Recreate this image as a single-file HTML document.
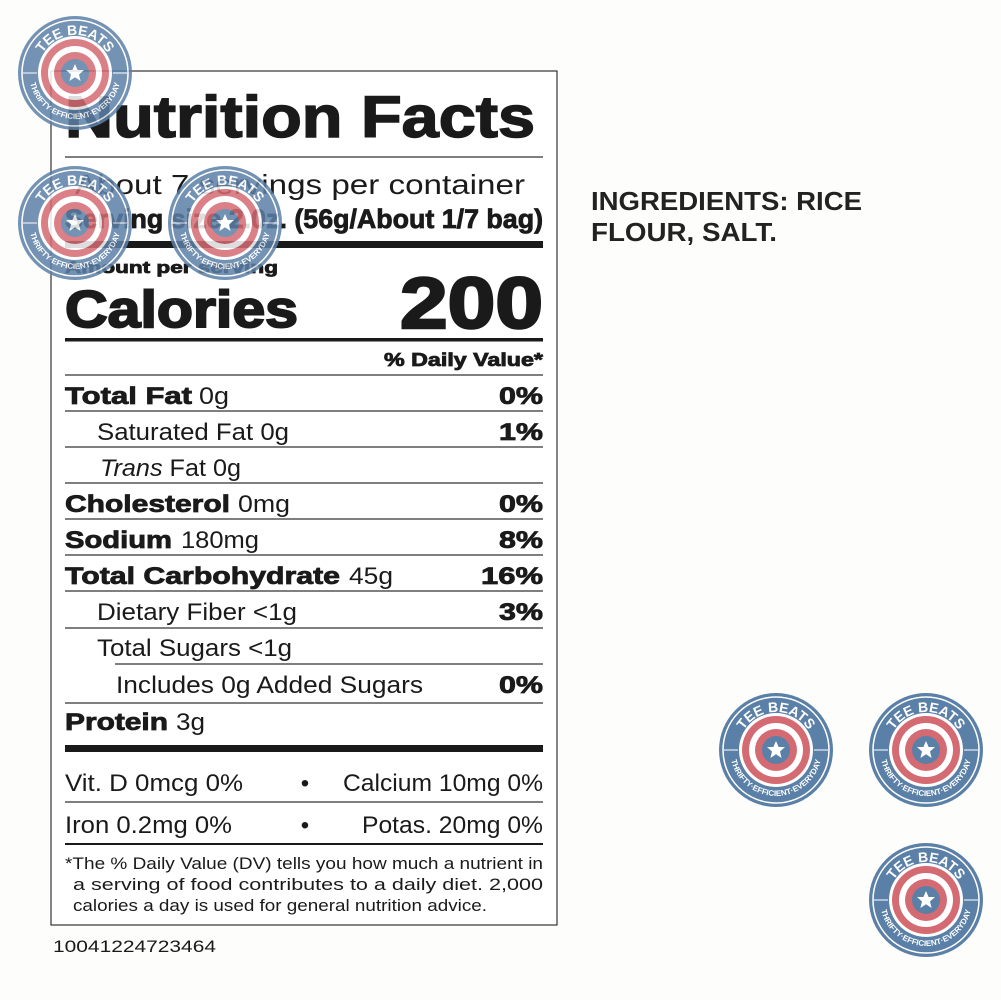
<!DOCTYPE html>
<html><head><meta charset="utf-8"><style>
html,body{margin:0;padding:0;background:#fdfdfb;}
svg{display:block;}
text{font-family:"Liberation Sans",Arial,sans-serif;fill:#1a1a1a;}
.b{font-weight:bold;stroke:#1a1a1a;stroke-width:0.8;}
</style></head><body>
<svg width="1001" height="1000" viewBox="0 0 1001 1000" xmlns="http://www.w3.org/2000/svg">
<defs>
<path id="arcTop" d="M -38,0 A 38,38 0 0 1 38,0"/>
<path id="arcBot" d="M -46,0 A 46,46 0 0 0 46,0"/>
<g id="logo">
<circle r="57" fill="#5b80a8"/>
<circle r="53" fill="none" stroke="#fff" stroke-width="1.5"/>
<circle r="37" fill="#fff"/>
<circle r="34" fill="#d46a72"/>
<circle r="27" fill="#fff"/>
<circle r="21" fill="#d46a72"/>
<circle r="14" fill="#5b80a8"/>
<polygon points="0,-9 2.6,-3 9,-3 4,1.5 5.6,8 0,4.2 -5.6,8 -4,1.5 -9,-3 -2.6,-3" fill="#fff"/>
<text font-size="14" font-weight="bold" style="fill:#fff"><textPath href="#arcTop" startOffset="50%" text-anchor="middle">TEE BEATS</textPath></text>
<text font-size="8" font-weight="bold" style="fill:#fff"><textPath href="#arcBot" startOffset="50%" text-anchor="middle">THRIFTY·EFFICIENT·EVERYDAY</textPath></text>
<line x1="-52" y1="0" x2="-38" y2="0" stroke="#fff" stroke-width="1"/>
<line x1="38" y1="0" x2="52" y2="0" stroke="#fff" stroke-width="1"/>
</g>
</defs>
<rect x="51" y="71" width="506" height="854" fill="#fff" stroke="#333" stroke-width="1.2"/>
<text x="65" y="137" font-size="58" class="b" style="stroke-width:1.5" textLength="470" lengthAdjust="spacingAndGlyphs">Nutrition Facts</text>
<line x1="65" y1="157" x2="543" y2="157" stroke="#333" stroke-width="1.2"/>
<text x="75" y="194" font-size="28" textLength="450" lengthAdjust="spacingAndGlyphs">About 7 servings per container</text>
<text x="65" y="228" font-size="27" class="b" textLength="478" lengthAdjust="spacingAndGlyphs">Serving size 2.0z. (56g/About 1/7 bag)</text>
<rect x="65" y="241" width="478" height="7" fill="#1a1a1a"/>
<text x="65" y="273" font-size="17" class="b" textLength="213" lengthAdjust="spacingAndGlyphs">Amount per serving</text>
<text x="65" y="327" font-size="52" class="b" style="stroke-width:2" textLength="233" lengthAdjust="spacingAndGlyphs">Calories</text>
<text x="400" y="328" font-size="72" class="b" style="stroke-width:2.5" textLength="143" lengthAdjust="spacingAndGlyphs">200</text>
<rect x="65" y="338" width="478" height="3.5" fill="#1a1a1a"/>
<text x="384" y="366" font-size="18" class="b" textLength="159" lengthAdjust="spacingAndGlyphs">% Daily Value*</text>
<g stroke="#333" stroke-width="1.3">
<line x1="65" y1="375" x2="543" y2="375"/>
<line x1="65" y1="411" x2="543" y2="411"/>
<line x1="65" y1="447" x2="543" y2="447"/>
<line x1="65" y1="483" x2="543" y2="483"/>
<line x1="65" y1="519" x2="543" y2="519"/>
<line x1="65" y1="555" x2="543" y2="555"/>
<line x1="65" y1="591" x2="543" y2="591"/>
<line x1="65" y1="628" x2="543" y2="628"/>
<line x1="115" y1="664" x2="543" y2="664"/>
<line x1="65" y1="703" x2="543" y2="703"/>
<line x1="65" y1="802" x2="543" y2="802"/>
</g>
<rect x="65" y="745" width="478" height="7" fill="#1a1a1a"/>
<rect x="65" y="843" width="478" height="2" fill="#1a1a1a"/>
<g font-size="24">
<text x="65" y="404" class="b" textLength="127" lengthAdjust="spacingAndGlyphs">Total Fat</text><text x="199" y="404" textLength="30" lengthAdjust="spacingAndGlyphs">0g</text>
<text x="499" y="404" class="b" textLength="44" lengthAdjust="spacingAndGlyphs">0%</text>
<text x="97" y="440" textLength="192" lengthAdjust="spacingAndGlyphs">Saturated Fat 0g</text>
<text x="499" y="440" class="b" textLength="44" lengthAdjust="spacingAndGlyphs">1%</text>
<text x="100" y="476" textLength="141" lengthAdjust="spacingAndGlyphs"><tspan font-style="italic">Trans</tspan> Fat 0g</text>
<text x="65" y="512" class="b" textLength="165" lengthAdjust="spacingAndGlyphs">Cholesterol</text><text x="238" y="512" textLength="52" lengthAdjust="spacingAndGlyphs">0mg</text>
<text x="499" y="512" class="b" textLength="44" lengthAdjust="spacingAndGlyphs">0%</text>
<text x="65" y="548" class="b" textLength="107" lengthAdjust="spacingAndGlyphs">Sodium</text><text x="181" y="548" textLength="78" lengthAdjust="spacingAndGlyphs">180mg</text>
<text x="499" y="548" class="b" textLength="44" lengthAdjust="spacingAndGlyphs">8%</text>
<text x="65" y="584" class="b" textLength="275" lengthAdjust="spacingAndGlyphs">Total Carbohydrate</text><text x="349" y="584" textLength="44" lengthAdjust="spacingAndGlyphs">45g</text>
<text x="481" y="584" class="b" textLength="62" lengthAdjust="spacingAndGlyphs">16%</text>
<text x="97" y="620" textLength="200" lengthAdjust="spacingAndGlyphs">Dietary Fiber &lt;1g</text>
<text x="499" y="620" class="b" textLength="44" lengthAdjust="spacingAndGlyphs">3%</text>
<text x="97" y="656" textLength="195" lengthAdjust="spacingAndGlyphs">Total Sugars &lt;1g</text>
<text x="116" y="693" textLength="307" lengthAdjust="spacingAndGlyphs">Includes 0g Added Sugars</text>
<text x="499" y="693" class="b" textLength="44" lengthAdjust="spacingAndGlyphs">0%</text>
<text x="65" y="730" class="b" textLength="103" lengthAdjust="spacingAndGlyphs">Protein</text><text x="176" y="730" textLength="29" lengthAdjust="spacingAndGlyphs">3g</text>
<text x="65" y="791" textLength="178" lengthAdjust="spacingAndGlyphs">Vit. D 0mcg 0%</text><text x="305" y="791" text-anchor="middle">•</text>
<text x="343" y="791" textLength="200" lengthAdjust="spacingAndGlyphs">Calcium 10mg 0%</text>
<text x="65" y="833" textLength="167" lengthAdjust="spacingAndGlyphs">Iron 0.2mg 0%</text><text x="305" y="833" text-anchor="middle">•</text>
<text x="362" y="833" textLength="181" lengthAdjust="spacingAndGlyphs">Potas. 20mg 0%</text>
</g>
<g font-size="17">
<text x="65" y="869" textLength="478" lengthAdjust="spacingAndGlyphs">*The % Daily Value (DV) tells you how much a nutrient in</text>
<text x="73" y="890" textLength="470" lengthAdjust="spacingAndGlyphs">a serving of food contributes to a daily diet. 2,000</text>
<text x="73" y="911" textLength="414" lengthAdjust="spacingAndGlyphs">calories a day is used for general nutrition advice.</text>
</g>
<text x="53" y="952" font-size="17" textLength="163" lengthAdjust="spacingAndGlyphs">10041224723464</text>
<text x="591" y="210" font-size="26" font-weight="bold" textLength="271" lengthAdjust="spacingAndGlyphs" style="fill:#222">INGREDIENTS: RICE</text>
<text x="591" y="241" font-size="26" font-weight="bold" textLength="186" lengthAdjust="spacingAndGlyphs" style="fill:#222">FLOUR, SALT.</text>
<g opacity="0.85">
<use href="#logo" transform="translate(75,73)"/>
<use href="#logo" transform="translate(75,223)"/>
<use href="#logo" transform="translate(225,223)"/>
</g>
<use href="#logo" transform="translate(776,750)"/>
<use href="#logo" transform="translate(926,750)"/>
<use href="#logo" transform="translate(926,900)"/>
</svg>
</body></html>
